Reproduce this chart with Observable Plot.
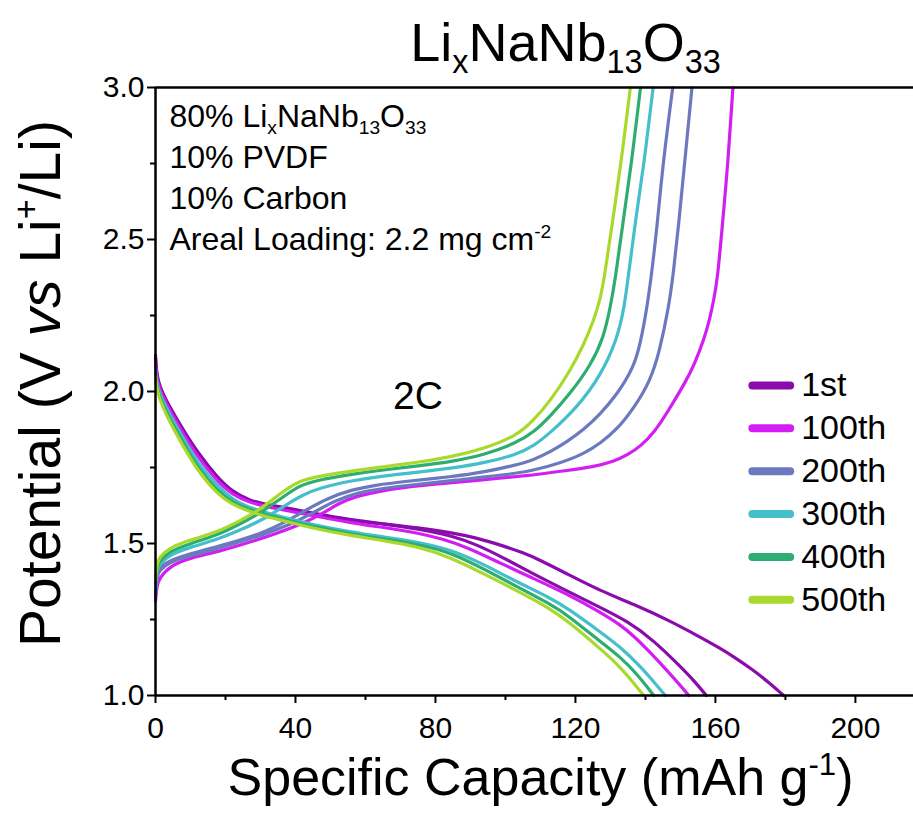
<!DOCTYPE html>
<html><head><meta charset="utf-8">
<script src="https://cdn.jsdelivr.net/npm/d3@7"></script>
<script src="https://cdn.jsdelivr.net/npm/@observablehq/plot@0.6"></script>
<style>body{margin:0;background:#fff}#chart{width:913px;height:813px}</style>
</head><body><div id="chart"></div>
<script>
// ---- data (specific capacity mAh/g, potential V) ----
const cycles = ["1st","100th","200th","300th","400th","500th"];
const colors = ["#8A0CAB","#D21EF2","#6D79BE","#45BFCB","#2EAD70","#A9D92C"];
const xTicks = [0,40,80,120,160,200];
const xMinor = [20,60,100,140,180];
const yTicks = [1.0,1.5,2.0,2.5,3.0];
const yMinor = [1.25,1.75,2.25,2.75];

const discharge1stA = [[0,2.12],[0.4,2.03],[4,1.95],[8,1.872],[12,1.80],[17.6,1.718],[22,1.67],[27,1.641],[32,1.627],[36.7,1.619],[45,1.60],[55.7,1.578],[65,1.565],[75,1.552],[85,1.535],[92,1.518],[98.6,1.495],[105,1.47],[110,1.445],[117.6,1.40],[127,1.345],[136.7,1.30],[146.2,1.25],[155.7,1.192],[161.4,1.155],[165.2,1.128],[171,1.082],[174.8,1.047],[179.5,1.0]];
const discharge1stB = [[0,2.11],[0.4,2.025],[4,1.945],[8,1.868],[12,1.795],[17.6,1.712],[22,1.665],[27,1.638],[32,1.624],[36.7,1.615],[45,1.598],[55.7,1.575],[65,1.565],[75,1.548],[85,1.525],[92,1.495],[98.6,1.458],[108,1.40],[117.6,1.344],[127,1.29],[134.8,1.245],[142.4,1.181],[150,1.095],[154,1.047],[157.4,1.0]];
const discharge100 = [[0,2.10],[0.4,2.02],[4,1.94],[8,1.86],[12,1.785],[17.6,1.705],[22,1.66],[27,1.635],[32,1.62],[36.7,1.61],[45,1.592],[55.7,1.568],[65,1.553],[75,1.535],[82,1.515],[89,1.488],[98.6,1.435],[108,1.385],[117.6,1.334],[127,1.275],[132.9,1.232],[136.7,1.195],[140.5,1.152],[147.1,1.071],[152.4,1.0]];
const discharge300 = [[0,2.07],[0.4,2.01],[4,1.925],[8,1.845],[12,1.765],[17.6,1.69],[22,1.645],[26,1.622],[31,1.603],[36.7,1.585],[45,1.562],[55.7,1.538],[65,1.522],[75,1.505],[85,1.478],[94,1.43],[103,1.375],[113,1.32],[118,1.285],[127,1.21],[132.9,1.159],[138.6,1.095],[142,1.05],[145.7,1.0]];
const discharge400 = [[0,2.06],[0.4,2.0],[4,1.912],[8,1.83],[12,1.75],[17.6,1.675],[22,1.635],[26,1.615],[31,1.597],[36.7,1.58],[45,1.555],[55.7,1.532],[65,1.515],[75,1.498],[85,1.468],[94,1.415],[103,1.36],[113,1.30],[118,1.262],[127,1.178],[132.9,1.126],[137.6,1.071],[142.4,1.0]];
const discharge500 = [[0,2.05],[0.4,1.992],[4,1.9],[8.1,1.817],[12,1.74],[17.6,1.663],[22,1.628],[26.2,1.608],[31,1.59],[36.7,1.575],[45,1.55],[55.7,1.526],[65,1.51],[74.8,1.49],[84.3,1.455],[93.8,1.40],[103.3,1.345],[112.9,1.285],[117.6,1.246],[127,1.155],[132.9,1.093],[136.7,1.04],[139.5,1.0]];

const charge100 = [[0,1.31],[0.4,1.36],[1,1.385],[4.3,1.428],[10,1.453],[17.6,1.472],[27,1.504],[35,1.535],[42,1.565],[48,1.60],[52,1.63],[57,1.655],[65,1.675],[75,1.69],[85,1.70],[98.6,1.715],[110,1.728],[117.6,1.74],[125,1.752],[131,1.77],[135,1.792],[138.6,1.82],[142.5,1.865],[146.2,1.93],[151.9,2.04],[154,2.09],[156.7,2.17],[158.3,2.235],[159.5,2.299],[160.6,2.37],[162,2.55],[163.5,2.74],[165,3.0]];
const charge200A = [[0,1.33],[0.4,1.39],[1,1.42],[4,1.445],[10,1.467],[17.6,1.49],[24,1.51],[31,1.537],[37,1.57],[43,1.61],[49,1.648],[56,1.677],[63,1.692],[70,1.703],[85,1.72],[94,1.735],[103,1.758],[108,1.775],[112.9,1.802],[117.6,1.835],[122.4,1.875],[127,1.925],[131.9,1.99],[136.7,2.08],[138.6,2.16],[140.5,2.28],[141.8,2.39],[143.4,2.55],[144.9,2.74],[147.8,3.0]];
const charge200B = [[0,1.34],[0.4,1.39],[1,1.41],[4,1.44],[10,1.46],[17.6,1.483],[24,1.505],[31,1.53],[38,1.56],[45,1.60],[51,1.64],[58,1.668],[65,1.682],[75,1.695],[85,1.708],[100,1.725],[108,1.74],[115.7,1.765],[122.4,1.795],[127.1,1.83],[131.9,1.875],[136.7,1.945],[141.4,2.035],[144,2.13],[146.7,2.28],[148,2.39],[149.5,2.55],[151.1,2.74],[153.3,3.0]];
const charge300 = [[0,1.36],[0.4,1.41],[1,1.43],[4,1.463],[10,1.488],[17.6,1.513],[24,1.543],[31,1.58],[37,1.625],[42,1.66],[47,1.683],[56,1.707],[65,1.722],[75,1.735],[85,1.748],[94,1.765],[103,1.792],[108,1.82],[112.9,1.865],[120.5,1.948],[127.1,2.05],[131.9,2.17],[134,2.28],[135,2.37],[137,2.55],[139.5,2.74],[142.2,3.0]];
const charge400 = [[0,1.37],[0.4,1.42],[1,1.44],[4,1.475],[10,1.50],[17.6,1.527],[24,1.563],[30,1.60],[36.7,1.655],[41,1.69],[46,1.708],[55.7,1.727],[65,1.742],[75,1.755],[85,1.77],[94,1.792],[103,1.83],[108,1.865],[112.9,1.92],[118.6,1.995],[124.3,2.085],[128.1,2.178],[130,2.28],[131.4,2.37],[133.5,2.55],[135.9,2.74],[138.6,3.0]];
const charge500 = [[0,1.38],[0.4,1.43],[1,1.455],[4.3,1.488],[10,1.512],[17.6,1.537],[24.3,1.576],[30,1.612],[36.7,1.674],[41.4,1.707],[46,1.72],[55.7,1.738],[65,1.752],[74.8,1.767],[84.3,1.784],[93.8,1.811],[103.3,1.855],[108,1.905],[112.9,1.97],[118.6,2.07],[122.4,2.155],[125.2,2.233],[127,2.3],[128.2,2.37],[130.5,2.55],[132.9,2.74],[135.7,3.0]];

const titleText = "LixNaNb13O33";
const notes = ["80% LixNaNb13O33","10% PVDF","10% Carbon","Areal Loading: 2.2 mg cm-2"];
const rateLabel = "2C";
const xTitle = "Specific Capacity (mAh g-1)";
const yTitle = "Potential (V vs Li+/Li)";

// ---- build table ----
const curves = [
  {cycle:"1st", pts:discharge1stA},{cycle:"1st", pts:discharge1stB},
  {cycle:"100th", pts:discharge100},{cycle:"300th", pts:discharge300},
  {cycle:"400th", pts:discharge400},{cycle:"500th", pts:discharge500},
  {cycle:"100th", pts:charge100},{cycle:"200th", pts:charge200A},
  {cycle:"200th", pts:charge200B},{cycle:"300th", pts:charge300},
  {cycle:"400th", pts:charge400},{cycle:"500th", pts:charge500}
];
const order = c => cycles.indexOf(c.cycle);
const rows = curves.map((c,k)=>({...c,k})).sort((a,b)=>order(a)-order(b))
  .flatMap(c => c.pts.map(([x,y]) => ({x, y, cycle:c.cycle, id:c.k})));

const legendTop = 2.02, legendStep = 0.141;
const noteTop = 2.905, noteStep = 0.135;

const plot = Plot.plot({
  width:913, height:813,
  marginLeft:155, marginRight:0, marginTop:87, marginBottom:118,
  x:{domain:[0,216.6]}, y:{domain:[1,3]},
  color:{domain:cycles, range:colors},
  style:{fontFamily:"'Liberation Sans', Arial, sans-serif", fontSize:"30px", color:"#000", background:"#fff", overflow:"visible"},
  marks:[
    Plot.axisX({ticks:xTicks, tickSize:8, tickPadding:13, strokeWidth:2, label:null, fontSize:30}),
    Plot.axisX({ticks:xMinor, tickSize:5, strokeWidth:2, tickFormat:()=>"", label:null}),
    Plot.axisY({ticks:yTicks, tickSize:8, tickPadding:3, strokeWidth:2, tickFormat:d=>d.toFixed(1), label:null, fontSize:30}),
    Plot.axisY({ticks:yMinor, tickSize:5, strokeWidth:2, tickFormat:()=>"", label:null}),
    Plot.line(rows, {x:"x", y:"y", z:"id", stroke:"cycle", strokeWidth:3.2, curve:"basis"}),
    Plot.ruleX([0], {strokeWidth:2.5}),
    Plot.ruleY([1,3], {strokeWidth:2.5}),
    Plot.text([titleText], {frameAnchor:"top", dx:31, dy:-44, fontSize:54, lineAnchor:"middle"}),
    Plot.text(notes, {x:4, y:(d,i)=>noteTop - i*noteStep, textAnchor:"start", lineAnchor:"middle", fontSize:32}),
    Plot.text([rateLabel], {x:75, y:1.985, fontSize:39, lineAnchor:"middle"}),
    Plot.ruleY(cycles, {y:(d,i)=>legendTop - i*legendStep, x1:170.7, x2:181.5, stroke:d=>d, strokeWidth:8, strokeLinecap:"round"}),
    Plot.text(cycles, {x:184.5, y:(d,i)=>legendTop - i*legendStep, text:d=>d, textAnchor:"start", lineAnchor:"middle", fontSize:34}),
    Plot.text([xTitle], {frameAnchor:"bottom", dx:6, dy:83, fontSize:52, lineAnchor:"middle"}),
    Plot.text([yTitle], {frameAnchor:"left", dx:-114, dy:-8, rotate:-90, fontSize:57, textAnchor:"middle", lineAnchor:"middle"})
  ]
});
document.getElementById("chart").appendChild(plot);

// ---- rich text (sub/superscripts, italics) ----
const rich = {
  [titleText]: [["Li",""],["x","sub"],["NaNb",""],["13","sub"],["O",""],["33","sub"]],
  [notes[0]]: [["80% Li",""],["x","sub"],["NaNb",""],["13","sub"],["O",""],["33","sub"]],
  [notes[3]]: [["Areal Loading: 2.2 mg cm",""],["-2","sup"]],
  [xTitle]: [["Specific Capacity (mAh g",""],["-1","sup"],[")",""]],
  [yTitle]: [["Potential (V ",""],["vs","i"],[" Li",""],["+","sup"],["/Li)",""]]
};
d3.select(plot).selectAll("text").each(function(){
  const parts = rich[this.textContent];
  if (!parts) return;
  const fs = parseFloat(getComputedStyle(this).fontSize);
  this.textContent = "";
  let shift = 0;
  for (const [s,m] of parts) {
    const t = document.createElementNS("http://www.w3.org/2000/svg","tspan");
    t.textContent = s;
    let target = 0;
    if (m === "sub") { t.setAttribute("font-size", fs*0.6); target = fs*0.22; }
    else if (m === "sup") { t.setAttribute("font-size", fs*0.6); target = -fs*0.38; }
    else if (m === "i") t.setAttribute("font-style","italic");
    const dy = target - shift;
    if (dy) t.setAttribute("dy", dy);
    shift = target;
    this.appendChild(t);
  }
});
</script></body></html>
